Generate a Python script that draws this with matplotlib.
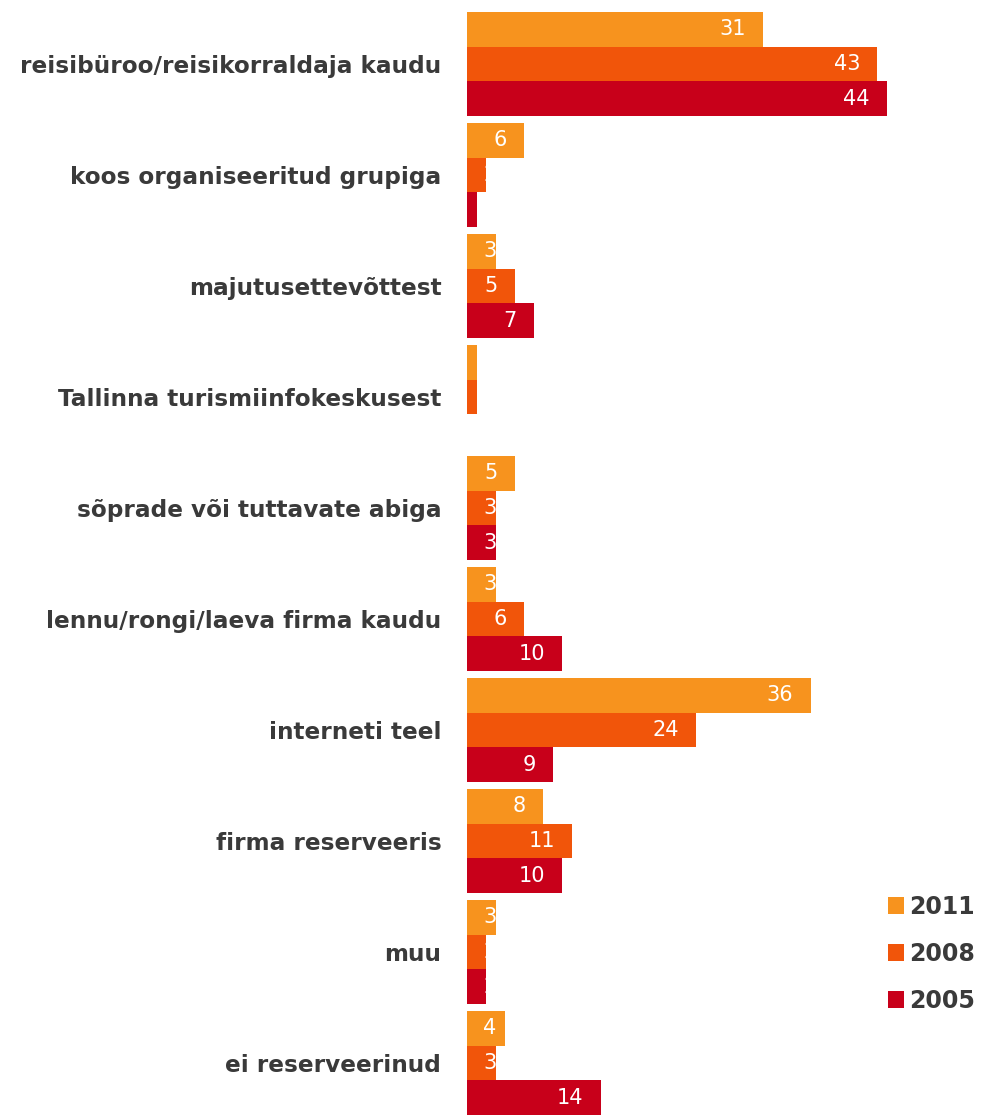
import matplotlib
matplotlib.use("Agg")
import matplotlib.pyplot as plt
import numpy as np

categories = [
    "reisibüroo/reisikorraldaja kaudu",
    "koos organiseeritud grupiga",
    "majutusettevõttest",
    "Tallinna turismiinfokeskusest",
    "sõprade või tuttavate abiga",
    "lennu/rongi/laeva firma kaudu",
    "interneti teel",
    "firma reserveeris",
    "muu",
    "ei reserveerinud",
]
years = ["2011", "2008", "2005"]
v2011 = [31, 6, 3, 1, 5, 3, 36, 8, 3, 4]
v2008 = [43, 2, 5, 1, 3, 6, 24, 11, 2, 3]
v2005 = [44, 1, 7, 0, 3, 10, 9, 10, 2, 14]
series = [v2011, v2008, v2005]
colors = ["#F7931E", "#F1550A", "#C8001A"]

W, H = 983, 1115
fig = plt.figure(figsize=(W / 100, H / 100), dpi=100)
ax_left = 467 / W
ax_bottom = 0 / H
ax_top = (H - 12) / H
ax = fig.add_axes([ax_left, ax_bottom, 1 - ax_left, ax_top - ax_bottom])

bh = 0.3125
xmax = (W - 467) / 9.545
y = np.arange(len(categories))
for j, (vals, col) in enumerate(zip(series, colors)):
    ypos = y + (j - 1) * bh
    bars = ax.barh(ypos, vals, height=bh, color=col, label=years[j], linewidth=0)
    for b, v in zip(bars, vals):
        if v <= 0:
            continue
        xr = max(v - 1.8, 3.1)
        t = ax.text(xr, b.get_y() + bh / 2, str(v), ha="right", va="center",
                    color="white", fontsize=15, family="DejaVu Sans")
        t.set_clip_path(b)

ax.set_ylim(len(categories) - 1 + 1.5 * bh, -1.5 * bh)
ax.set_xlim(0, xmax)
ax.set_yticks(y)
ax.set_yticklabels(categories, fontsize=16.7, fontweight="bold", color="#3a3a3a")
ax.tick_params(axis="y", length=0, pad=18.5)
ax.set_xticks([])
for s in ax.spines.values():
    s.set_visible(False)

leg = ax.legend(loc="lower right", bbox_to_anchor=(1.012, 0.08), frameon=False,
                prop={"size": 17, "weight": "bold"}, handlelength=0.7, handleheight=0.7,
                handletextpad=0.2, labelspacing=0.97, borderaxespad=0.2)
for t in leg.get_texts():
    t.set_color("#3a3a3a")

fig.savefig("out.png", dpi=100)
